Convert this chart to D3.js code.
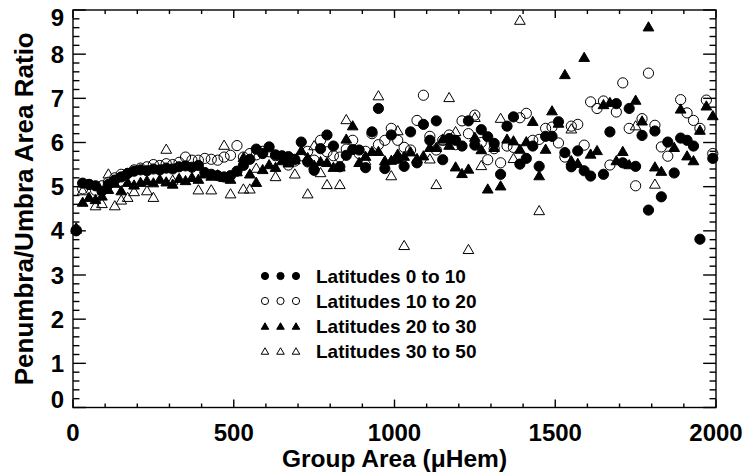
<!DOCTYPE html>
<html>
<head>
<meta charset="utf-8">
<script src="https://cdn.jsdelivr.net/npm/d3@7"></script>
<style>
    body { margin: 0; background: #fff; }
    text { font-family: "Liberation Sans", Arial, Helvetica, sans-serif; font-weight: bold; fill: #000; }
</style>
</head>
<body>
<svg id="chart" width="747" height="475"></svg>
<script>
// group area bins (uHem)
const groupArea = [
    10, 30, 50, 70, 90, 110, 130, 150, 170, 190,
    210, 230, 250, 270, 290, 310, 330, 350, 370, 390,
    410, 430, 450, 470, 490, 510, 530, 550, 570, 590,
    610, 630, 650, 670, 690, 710, 730, 750, 770, 790,
    810, 830, 850, 870, 890, 910, 930, 950, 970, 990,
    1010, 1030, 1050, 1070, 1090, 1110, 1130, 1150, 1170, 1190,
    1210, 1230, 1250, 1270, 1290, 1310, 1330, 1350, 1370, 1390,
    1410, 1430, 1450, 1470, 1490, 1510, 1530, 1550, 1570, 1590,
    1610, 1630, 1650, 1670, 1690, 1710, 1730, 1750, 1770, 1790,
    1810, 1830, 1850, 1870, 1890, 1910, 1930, 1950, 1970, 1990
];

// penumbra/umbra ratio per bin, null = no group in that bin
const lat0to10 = [
    4.00, 5.08, 5.05, 5.02, 4.90, 5.05, 5.15, 5.22, 5.30, 5.35,
    5.38, 5.36, 5.40, 5.38, 5.42, 5.40, 5.45, 5.47, 5.44, 5.48,
    5.32, 5.28, 5.25, 5.22, 5.25, 5.35, 5.48, 5.62, 5.85, 5.75,
    5.90, 5.72, 5.70, 5.68, 5.62, 6.01, 5.56, 5.37, 5.86, 6.17,
    5.92, 5.45, 5.71, 5.84, 5.83, 5.43, 6.24, 6.77, 5.41, 6.17,
    5.64, 5.46, 6.24, 5.54, 6.41, 6.05, 6.49, 5.61, 6.09, 6.05,
    5.92, 6.49, 5.94, 6.29, 6.13, 5.98, 5.28, 6.37, 6.58, 5.51,
    5.64, 5.92, 5.46, 6.14, 6.14, 6.47, 5.77, 5.45, 5.81, 5.36,
    5.24, null, 5.28, 6.24, 6.88, 5.54, 6.77, 5.46, 6.16, 4.47,
    6.26, 4.77, 6.01, 5.31, 6.10, 6.05, 5.92, 3.81, null, 5.64
];

const lat10to20 = [
    4.02, 4.95, 5.05, 4.92, 5.02, 5.10, 5.20, 5.28, 5.30, 5.38,
    5.42, 5.45, 5.50, 5.48, 5.52, 5.50, 5.55, 5.67, 5.60, 5.60,
    5.64, 5.62, 5.60, 5.67, 5.71, 5.93, 5.67, 5.75, 5.72, 5.80,
    5.79, 5.70, 5.65, 5.49, 5.58, 5.70, 5.80, 5.60, 6.05, 5.79,
    5.70, 5.67, 5.85, 6.05, 5.75, 5.80, 6.20, 5.95, 6.05, 6.32,
    6.05, 5.89, 5.83, 6.50, 7.07, 6.14, 5.83, 6.05, 6.17, 5.95,
    6.49, 6.20, 6.62, 6.00, 5.61, 5.86, 5.54, 5.92, 5.89, 6.56,
    6.66, 6.05, 6.07, 6.32, 6.35, 5.99, 5.67, 6.37, 6.41, 5.94,
    6.92, 6.77, 6.94, 5.49, 6.69, 7.35, 6.32, 5.02, 6.54, 7.57,
    6.39, 5.90, 5.69, null, 6.97, 6.67, 6.50, 6.32, 6.96, 5.75
];

const lat20to30 = [
    4.08, 4.66, 4.77, 4.72, 4.80, 4.95, 5.09, 4.92, 5.11, 5.05,
    5.11, 5.15, 5.10, 5.18, 5.12, 5.07, 5.20, 5.15, 5.22, 5.18,
    5.30, 5.25, 5.28, 5.22, 5.18, 5.35, 5.67, 5.30, 5.11, 5.40,
    5.51, 5.45, 5.60, 5.55, 5.62, 5.83, 5.67, 5.50, 5.58, 5.56,
    5.45, 5.46, 6.09, 6.39, 5.56, 5.70, 5.81, 5.81, 5.60, 5.61,
    5.75, 5.70, 5.80, 5.65, 5.71, 5.90, 5.90, 6.09, 5.95, 5.46,
    5.31, 5.41, 6.13, 5.85, 4.96, 5.90, 5.03, 6.09, 6.05, 5.86,
    6.03, 6.49, 5.26, 5.86, 6.73, 6.45, 7.55, 5.60, 5.54, 7.94,
    5.75, 5.83, 6.87, 6.92, 5.60, 5.81, 5.51, 6.97, 6.50, 8.63,
    5.46, 5.36, null, 5.90, 6.77, 5.71, 5.60, 6.29, 6.84, 6.62
];

const lat30to50 = [
    4.05, 4.92, null, 4.58, 4.63, 5.30, 4.58, 4.71, 4.77, 4.90,
    null, 4.92, 4.77, null, 5.86, 5.16, null, null, null, 4.94,
    null, 4.94, null, 5.95, 4.85, null, 4.96, 4.96, 5.43, null,
    null, 5.24, null, null, 5.30, null, 4.85, 5.94, 5.33, 5.06,
    null, 5.06, 6.53, null, null, 5.60, null, 7.07, null, 5.26,
    6.28, 3.68, null, null, null, 5.64, 5.06, 6.05, 7.03, 6.26,
    null, 3.59, 6.58, 5.49, null, null, 6.56, null, 5.65, 8.78,
    null, null, 4.47, null, null, null, null, 6.32, null, null,
    null, null, null, null, null, null, null, 6.39, null, null,
    5.07, null, null, null, null, null, null, null, null, null
];

const seriesNames = ["Latitudes 0 to 10", "Latitudes 10 to 20", "Latitudes 20 to 30", "Latitudes 30 to 50"];
const seriesValues = [lat0to10, lat10to20, lat20to30, lat30to50];
const seriesShape = ["circle", "circle", "triangle", "triangle"];
const seriesFilled = [true, false, true, false];

const xTicks = [0, 500, 1000, 1500, 2000];
const yTicks = [0, 1, 2, 3, 4, 5, 6, 7, 8, 9];

const width = 747, height = 475;
const margin = { left: 73, right: 31, top: 10, bottom: 67.5 };

const svg = d3.select("#chart");

const x = d3.scaleLinear()
    .domain([0, 2000])
    .range([margin.left, width - margin.right]);

const y = d3.scaleLinear()
    .domain([0, 9])
    .range([height - margin.bottom, margin.top]);

const plotW = x.range()[1] - x.range()[0];
const plotH = y.range()[0] - y.range()[1];

// IDL style tick lengths: fraction of the other dimension
const xTickLen = plotH * 0.02, yTickLen = plotW * 0.02;

function trianglePath(cx, cy, w, h)
{
    const p = d3.path();
    p.moveTo(cx - w / 2, cy + h / 2);
    p.lineTo(cx, cy - h / 2);
    p.lineTo(cx + w / 2, cy + h / 2);
    p.closePath();
    return p.toString();
}

function drawMarks(g, pts, shape, filled, size)
{
    if(shape == "circle")
    {
        g.selectAll("circle")
            .data(pts)
            .join("circle")
            .attr("cx", d => d.x)
            .attr("cy", d => d.y)
            .attr("r", size)
            .attr("fill", filled ? "#000" : "none")
            .attr("stroke", "#000")
            .attr("stroke-width", 1);
    }
    else
    {
        g.selectAll("path")
            .data(pts)
            .join("path")
            .attr("d", d => trianglePath(d.x, d.y, size * 2.1, size * 1.8))
            .attr("fill", filled ? "#000" : "none")
            .attr("stroke", "#000")
            .attr("stroke-width", 1)
            .attr("stroke-linejoin", "miter");
    }
}

// data points
for(const i in seriesValues)
{
    const pts = groupArea
        .map((a, k) => ({ a: a, r: seriesValues[i][k] }))
        .filter(d => d.r != null)
        .map(d => ({ x: x(d.a), y: y(d.r) }));

    drawMarks(svg.append("g"), pts, seriesShape[i], seriesFilled[i], 5.1);
}

// axes box with ticks on all four sides
const axisG = svg.append("g")
    .attr("stroke", "#000")
    .attr("stroke-width", 1.4)
    .attr("fill", "none");

axisG.append("rect")
    .attr("x", x(0))
    .attr("y", y(9))
    .attr("width", plotW)
    .attr("height", plotH);

const xMinor = d3.range(0, 2001, 100);
const yMinor = d3.range(0, 9.001, 0.2);

for(const v of xMinor)
{
    const major = v % 500 == 0;
    const len = major ? xTickLen : xTickLen / 2;
    axisG.append("line").attr("x1", x(v)).attr("x2", x(v)).attr("y1", y(0)).attr("y2", y(0) - len);
    axisG.append("line").attr("x1", x(v)).attr("x2", x(v)).attr("y1", y(9)).attr("y2", y(9) + len);
}

for(const v of yMinor)
{
    const major = Math.abs(v - Math.round(v)) < 1e-6;
    const len = major ? yTickLen : yTickLen / 2;
    axisG.append("line").attr("x1", x(0)).attr("x2", x(0) + len).attr("y1", y(v)).attr("y2", y(v));
    axisG.append("line").attr("x1", x(2000)).attr("x2", x(2000) - len).attr("y1", y(v)).attr("y2", y(v));
}

// tick labels
svg.append("g")
    .selectAll("text")
    .data(xTicks)
    .join("text")
    .attr("x", d => x(d))
    .attr("y", y(0) + 33)
    .attr("text-anchor", "middle")
    .attr("font-size", 24)
    .text(d => d);

svg.append("g")
    .selectAll("text")
    .data(yTicks)
    .join("text")
    .attr("x", x(0) - 9)
    .attr("y", d => Math.min(Math.max(y(d), 17), 399))
    .attr("dy", "0.36em")
    .attr("text-anchor", "end")
    .attr("font-size", 24)
    .text(d => d);

// axis titles
svg.append("text")
    .attr("x", (x(0) + x(2000)) / 2)
    .attr("y", 467)
    .attr("text-anchor", "middle")
    .attr("font-size", 24.5)
    .text("Group Area (\u03bcHem)");

svg.append("text")
    .attr("transform", `translate(33, ${(y(0) + y(9)) / 2}) rotate(-90)`)
    .attr("text-anchor", "middle")
    .attr("font-size", 26)
    .text("Penumbra/Umbra Area Ratio");

// legend
const legend = svg.append("g").attr("transform", "translate(265, 276)");

seriesNames.forEach((name, i) =>
{
    const row = legend.append("g").attr("transform", `translate(0, ${i * 25})`);
    const pts = [0, 15.5, 31].map(dx => ({ x: dx, y: 0 }));

    drawMarks(row, pts, seriesShape[i], seriesFilled[i], 3.6);

    row.append("text")
        .attr("x", 51)
        .attr("dy", "0.36em")
        .attr("font-size", 19)
        .text(name);
});
</script>
</body>
</html>
